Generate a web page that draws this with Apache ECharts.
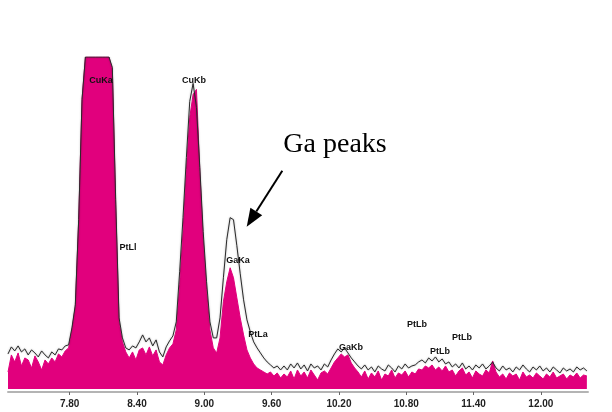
<!DOCTYPE html>
<html>
<head>
<meta charset="utf-8">
<script src="https://cdn.jsdelivr.net/npm/echarts@6/dist/echarts.min.js"></script>
<style>
html,body{margin:0;padding:0;background:#fff;}
#chart{width:612px;height:412px;}
</style>
</head>
<body>
<div id="chart"></div>
<script>
// Energy channels (keV)
const energy = [
7.25,7.28,7.31,7.34,7.37,7.40,7.43,7.46,7.49,7.52,
7.55,7.58,7.61,7.64,7.67,7.70,7.73,7.76,7.79,7.82,
7.85,7.88,7.91,7.94,7.97,8.00,8.03,8.06,8.09,8.12,
8.15,8.18,8.21,8.24,8.27,8.30,8.33,8.36,8.39,8.42,
8.45,8.48,8.51,8.54,8.57,8.60,8.63,8.66,8.69,8.72,
8.75,8.78,8.81,8.84,8.87,8.90,8.93,8.96,8.99,9.02,
9.05,9.08,9.11,9.14,9.17,9.20,9.23,9.26,9.29,9.32,
9.35,9.38,9.41,9.44,9.47,9.50,9.53,9.56,9.59,9.62,
9.65,9.68,9.71,9.74,9.77,9.80,9.83,9.86,9.89,9.92,
9.95,9.98,10.01,10.04,10.07,10.10,10.13,10.16,10.19,10.22,
10.25,10.28,10.31,10.34,10.37,10.40,10.43,10.46,10.49,10.52,
10.55,10.58,10.61,10.64,10.67,10.70,10.73,10.76,10.79,10.82,
10.85,10.88,10.91,10.94,10.97,11.00,11.03,11.06,11.09,11.12,
11.15,11.18,11.21,11.24,11.27,11.30,11.33,11.36,11.39,11.42,
11.45,11.48,11.51,11.54,11.57,11.60,11.63,11.66,11.69,11.72,
11.75,11.78,11.81,11.84,11.87,11.90,11.93,11.96,11.99,12.02,
12.05,12.08,12.11,12.14,12.17,12.20,12.23,12.26,12.29,12.32,
12.35,12.38,12.41
];

// Outline spectrum (black line)
const outlineCounts = [
111,132,120,135,117,126,108,123,114,102,
120,108,99,117,108,126,123,135,138,189,
258,513,873,1000,1000,1000,1000,1000,1000,1000,
1000,969,573,219,159,129,123,135,129,147,
168,147,159,135,153,117,102,132,150,165,
207,357,519,699,867,921,849,669,477,327,
207,159,159,219,339,453,519,513,435,351,
273,213,177,147,129,114,99,87,78,69,
75,63,75,63,81,69,84,66,78,60,
81,69,75,63,81,72,93,111,126,117,
129,114,99,87,75,66,78,63,72,57,
75,66,60,78,69,57,75,66,81,69,
75,78,87,93,84,99,90,102,87,96,
81,87,72,81,69,84,66,75,63,78,
69,81,66,75,87,69,60,75,63,69,
57,72,63,78,66,57,72,63,75,60,
69,57,72,63,54,69,60,66,57,72,
63,69,60
];

// Filled spectrum (magenta)
const filledCounts = [
57,108,87,114,75,99,93,69,105,87,
63,93,81,99,87,111,102,120,129,183,
252,513,873,1000,1000,1000,1000,1000,1000,1000,
1000,963,558,207,147,117,99,117,93,123,
129,108,132,105,123,87,78,108,129,141,
183,318,477,663,819,888,903,657,453,303,
183,129,114,159,267,327,369,339,279,219,
168,123,99,81,69,63,57,51,57,45,
54,39,51,42,60,36,63,45,57,39,
63,48,33,54,60,51,69,87,99,111,
102,108,84,69,57,42,60,36,54,42,
60,33,51,45,63,39,54,48,60,42,
57,51,66,63,75,69,78,63,72,60,
75,57,63,45,60,69,48,57,39,60,
51,45,63,54,90,57,42,51,36,54,
45,51,33,57,42,48,39,54,45,36,
51,42,57,39,45,51,36,48,42,54,
39,48,45
];

// Axis tick labels (keV)
const tickValues = [7.80, 8.40, 9.00, 9.60, 10.20, 10.80, 11.40, 12.00];

// Peak labels
const peakNames = ['CuKa','CuKb','PtLl','GaKa','PtLa','GaKb','PtLb','PtLb','PtLb'];
const peakEnergy = [8.079, 8.908, 8.320, 9.300, 9.478, 10.307, 10.896, 11.101, 11.297];
const peakLabelY = [931, 931, 431, 392, 168, 129, 198, 117, 159];

const chart = echarts.init(document.getElementById('chart'));
const magenta = '#E1007D';

const filledData = energy.map((e, i) => [e, filledCounts[i]]);
const outlineData = energy.map((e, i) => [e, outlineCounts[i]]);

chart.setOption({
  animation: false,
  backgroundColor: '#ffffff',
  grid: { left: 8, right: 24, top: 57, bottom: 23 },
  xAxis: {
    type: 'value',
    min: 7.25,
    max: 12.42,
    offset: 3,
    splitLine: { show: false },
    axisLine: { show: true, lineStyle: { color: '#b4b4b4', width: 2 } },
    axisTick: { show: true, customValues: tickValues, length: 3, lineStyle: { color: '#666' } },
    axisLabel: {
      customValues: tickValues,
      formatter: v => Number(v).toFixed(2),
      fontFamily: 'Liberation Sans, Arial, sans-serif',
      fontWeight: 'bold',
      fontSize: 10,
      color: '#222',
      margin: 7
    }
  },
  yAxis: {
    type: 'value',
    min: 6,
    max: 1000,
    show: false,
    splitLine: { show: false }
  },
  series: [
    {
      type: 'line',
      data: filledData,
      symbol: 'none',
      lineStyle: { color: magenta, width: 1 },
      areaStyle: { color: magenta, opacity: 1, origin: 'start' },
      z: 2,
      markPoint: {
        symbol: 'rect',
        symbolSize: 1,
        itemStyle: { color: 'rgba(0,0,0,0)' },
        label: {
          show: true,
          position: 'inside',
          color: '#111',
          fontFamily: 'Liberation Sans, Arial, sans-serif',
          fontWeight: 'bold',
          fontSize: 9,
          formatter: p => p.name
        },
        data: peakNames.map((n, i) => ({ name: n, coord: [peakEnergy[i], peakLabelY[i]] }))
      }
    },
    {
      type: 'line',
      data: outlineData,
      symbol: 'none',
      lineStyle: { color: '#2a2a2a', width: 1, shadowColor: 'rgba(0,0,0,0.35)', shadowBlur: 2 },
      z: 3
    }
  ],
  graphic: [
    {
      type: 'text',
      x: 335, y: 145,
      style: {
        text: 'Ga peaks',
        fontFamily: 'Liberation Serif, Times New Roman, serif',
        fontSize: 28,
        fill: '#000',
        align: 'center',
        verticalAlign: 'middle'
      }
    },
    {
      type: 'line',
      shape: { x1: 282.3, y1: 170.7, x2: 256.3, y2: 211.5 },
      style: { stroke: '#000', lineWidth: 2 }
    },
    {
      type: 'polygon',
      shape: { points: [[246.7, 226.7], [262.2, 215.2], [250.4, 207.7]] },
      style: { fill: '#000' }
    }
  ]
});
</script>
</body>
</html>
